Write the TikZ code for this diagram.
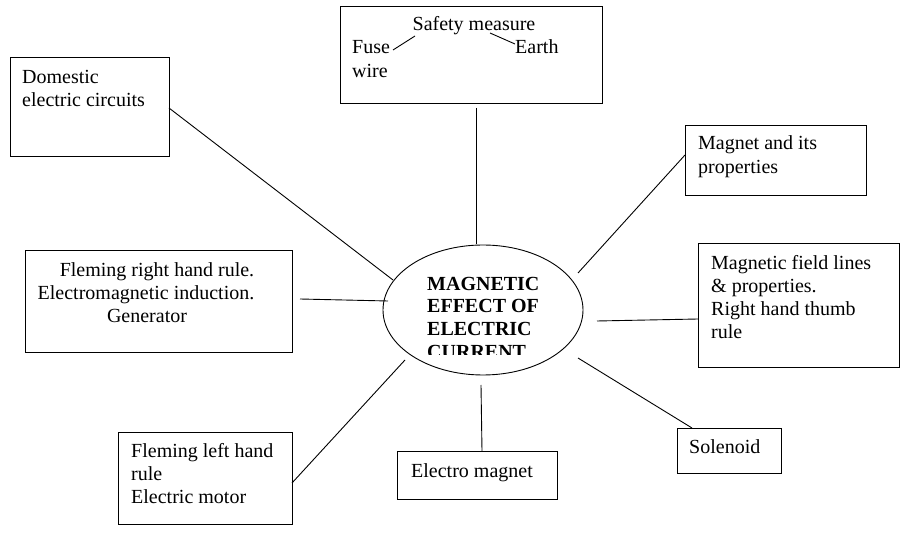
\documentclass[tikz,border=0pt]{standalone}
\usepackage{fontspec}
\setmainfont{Liberation Serif}
\usetikzlibrary{shapes.geometric}
\begin{document}
\begin{tikzpicture}[x=1pt,y=-1pt,
  box/.style={draw,line width=0.9pt,anchor=north west,inner sep=0pt},
  txt/.style={anchor=base west,inner sep=0pt,font=\fontsize{20}{23}\selectfont},
  ctxt/.style={anchor=base,inner sep=0pt,font=\fontsize{20}{23}\selectfont},
  btxt/.style={anchor=base west,inner sep=0pt,font=\fontsize{20}{23}\selectfont\bfseries},
  link/.style={line width=0.9pt}]
\useasboundingbox (0,0) rectangle (906,534);
% boxes
\node[box,minimum width=262pt,minimum height=97pt] (top) at (340,6) {};
\node[box,minimum width=159pt,minimum height=99pt] (dom) at (10,57) {};
\node[box,minimum width=181pt,minimum height=70pt] (mag) at (685,125) {};
\node[box,minimum width=267pt,minimum height=102pt] (fr) at (25,250) {};
\node[box,minimum width=201pt,minimum height=124pt] (mf) at (698,243) {};
\node[box,minimum width=174pt,minimum height=92pt] (fl) at (118,432) {};
\node[box,minimum width=160pt,minimum height=48pt] (em) at (397,451) {};
\node[box,minimum width=104pt,minimum height=45pt] (sol) at (677,428) {};
% centre
\node[draw,line width=0.9pt,ellipse,minimum width=200pt,minimum height=130pt,inner sep=0pt] (c) at (483,310) {};
\begin{scope}
\clip (380,240) rectangle (590,355);
\node[btxt] (c1) at (427,291) {MAGNETIC};
\node[btxt] (c2) at (427,313) {EFFECT OF};
\node[btxt] (c3) at (427,336) {ELECTRIC};
\node[btxt] (c4) at (427,359) {CURRENT};
\end{scope}
% texts
\node[ctxt] (t1) at (474,31) {Safety measure};
\node[txt] (t2) at (352,54) {Fuse};
\node[txt] (t3) at (352,78) {wire};
\node[txt] (t4) at (515,54) {Earth};
\draw[link] (393,50) coordinate (s1) -- (415,36) coordinate (s2);
\draw[link] (490,33) coordinate (s3) -- (515,44) coordinate (s4);
\node[txt] (d1) at (22,84) {Domestic};
\node[txt] (d2) at (22,107) {electric circuits};
\node[txt] (m1) at (698,150) {Magnet and its};
\node[txt] (m2) at (698,174) {properties};
\node[ctxt] (r1) at (157,277) {Fleming right hand rule.};
\node[ctxt] (r2) at (146,300) {Electromagnetic induction.};
\node[ctxt] (r3) at (147,323) {Generator};
\node[txt] (f1) at (711,270) {Magnetic field lines};
\node[txt] (f2) at (711,293) {\& properties.};
\node[txt] (f3) at (711,316) {Right hand thumb};
\node[txt] (f4) at (711,339) {rule};
\node[txt] (l1) at (131,458) {Fleming left hand};
\node[txt] (l2) at (131,481) {rule};
\node[txt] (l3) at (131,504) {Electric motor};
\node[txt] (e1) at (411,478) {Electro magnet};
\node[txt] (so1) at (689,454) {Solenoid};
% connectors
\coordinate (a1) at (169,108); \coordinate (b1) at (393,280);
\coordinate (a2) at (476,108); \coordinate (b2) at (476,244);
\coordinate (a3) at (685,155); \coordinate (b3) at (578,273);
\coordinate (a4) at (300,299); \coordinate (b4) at (388,301);
\coordinate (a5) at (698,319); \coordinate (b5) at (597,321);
\coordinate (a6) at (292,483); \coordinate (b6) at (405,360);
\coordinate (a7) at (482,451); \coordinate (b7) at (481,385);
\coordinate (a8) at (692,428); \coordinate (b8) at (578,358);
\foreach \i in {1,...,8} \draw[link] (a\i) -- (b\i);
\end{tikzpicture}
\end{document}
